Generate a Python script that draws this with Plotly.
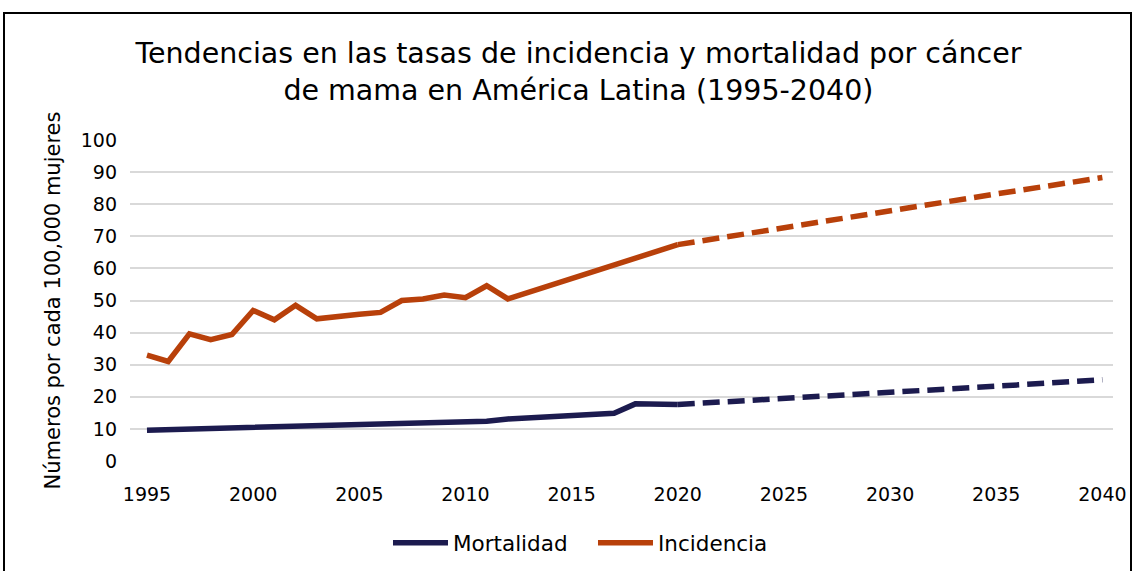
import plotly.graph_objects as go

years_hist = list(range(1995, 2021))
mortalidad = [9.6, 9.8, 10.0, 10.2, 10.2, 10.4, 10.6, 10.8, 11.1, 11.2, 11.4, 11.7, 11.9, 12.1, 12.3, 12.5, 12.4, 13.1, 13.4, 13.7, 14.1, 14.5, 14.9, 17.8, 17.7, 17.6]
incidencia = [33.0, 31.0, 39.6, 37.8, 39.4, 46.9, 44.0, 48.5, 44.3, 45.2, 45.7, 46.3, 50.0, 50.5, 51.7, 50.9, 54.6, 50.5, 52.6, 54.7, 56.8, 58.9, 61.0, 63.2, 65.3, 67.4]

years_proj = [2020, 2025, 2030, 2035, 2040]
mortalidad_proj = [17.6, 19.3, 21.4, 23.3, 25.3]
incidencia_proj = [67.4, 72.8, 78.1, 83.2, 88.3]

x_ticks = list(range(1995, 2041, 5))
y_ticks = list(range(0, 101, 10))

c_mort = "#1C1B4F"
c_inc = "#B8400A"
FONT = "DejaVu Sans"

fig = go.Figure()
fig.add_trace(go.Scatter(x=years_hist, y=mortalidad, mode="lines", name="Mortalidad",
                         line=dict(color=c_mort, width=5.5)))
fig.add_trace(go.Scatter(x=years_hist, y=incidencia, mode="lines", name="Incidencia",
                         line=dict(color=c_inc, width=5.5)))
fig.add_trace(go.Scatter(x=years_proj, y=mortalidad_proj, mode="lines", showlegend=False,
                         line=dict(color=c_mort, width=5.5, dash="17px,8px")))
fig.add_trace(go.Scatter(x=years_proj, y=incidencia_proj, mode="lines", showlegend=False,
                         line=dict(color=c_inc, width=5.5, dash="17px,8px")))

L, R, T, B = 130, 19, 140, 110
W, H = 1132, 571
pw = W - L - R
ph = H - T - B

def px2paper_x(px):
    return (px - L) / pw

def px2paper_y(py):
    return (H - B - py) / ph

fig.add_shape(type="rect", xref="paper", yref="paper",
              x0=px2paper_x(4), x1=px2paper_x(1131), y0=px2paper_y(590), y1=px2paper_y(13),
              line=dict(color="black", width=2), fillcolor="rgba(0,0,0,0)", layer="above")

fig.update_layout(
    width=W, height=H,
    margin=dict(l=L, r=R, t=T, b=B, autoexpand=False),
    paper_bgcolor="white", plot_bgcolor="white",
    font=dict(family=FONT, color="#000000", size=19),
    title=dict(text="Tendencias en las tasas de incidencia y mortalidad por cáncer<br>de mama en América Latina (1995-2040)",
               x=0.511, xanchor="center", y=0.889, yanchor="middle",
               font=dict(family=FONT, size=28.5, color="#000000")),
    xaxis=dict(range=[1994.2, 2040.5], tickvals=x_ticks, ticktext=[str(v) for v in x_ticks],
               showgrid=False, zeroline=False, showline=False, ticks="",
               tickfont=dict(size=19), ticklabelstandoff=20),
    yaxis=dict(range=[0, 100], tickvals=y_ticks, showgrid=True, gridcolor="#D9D9D9", gridwidth=1.5,
               zeroline=False, showline=False, ticks="", tickfont=dict(size=19),
               ticklabelstandoff=12,
               title=dict(text="Números por cada 100,000 mujeres", font=dict(size=21), standoff=14)),
    legend=dict(orientation="h", x=0.471, xanchor="center", y=-0.255, yanchor="middle",
                font=dict(size=21.5), traceorder="normal", itemwidth=55, entrywidth=135),
    showlegend=True,
)

fig.write_html("out.html", post_script="document.body.style.margin='0';",
               config={"displayModeBar": False})
